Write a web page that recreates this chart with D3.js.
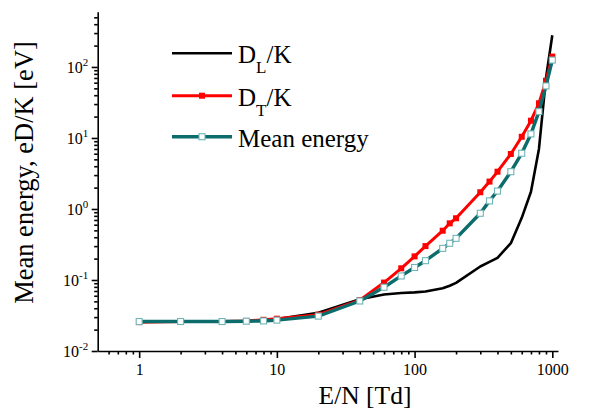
<!DOCTYPE html>
<html>
<head>
<meta charset="utf-8">
<script src="https://cdn.jsdelivr.net/npm/d3@7/dist/d3.min.js"></script>
<style>
  html, body { margin: 0; padding: 0; background: #fff; }
  svg { display: block; font-family: "Liberation Serif", "Times New Roman", serif; }
</style>
</head>
<body>
<svg id="chart" width="592" height="412"></svg>
<script>
// Reduced field E/N [Td]
const fieldPoints = [1, 2, 4, 6, 8, 10, 20, 40, 60, 80, 100, 120, 160, 180, 200, 300, 350, 400, 500, 600, 700, 800, 900, 1000];
// Longitudinal diffusion / mobility, eD_L/K [eV]
const dlValues = [0.0258, 0.026, 0.026, 0.0265, 0.0272, 0.0282, 0.0346, 0.0535, 0.0625, 0.0655, 0.067, 0.069, 0.0765, 0.083, 0.091, 0.155, 0.18, 0.205, 0.33, 0.75, 1.75, 7, 70, 280];
// Transverse diffusion / mobility, eD_T/K [eV]
const dtValues = [0.0255, 0.026, 0.026, 0.0265, 0.0275, 0.0285, 0.0325, 0.052, 0.092, 0.146, 0.215, 0.30, 0.494, 0.628, 0.74, 1.72, 2.43, 3.35, 5.95, 10.4, 17.5, 30.8, 64, 140];
// Mean electron energy [eV]
const meanValues = [0.026, 0.026, 0.026, 0.0263, 0.0265, 0.0272, 0.031, 0.0506, 0.079, 0.114, 0.15, 0.187, 0.279, 0.329, 0.386, 0.87, 1.3, 1.79, 3.35, 6.09, 11.4, 23.5, 54, 125];

const xMajorTicks = [1, 10, 100, 1000];
const yMajorExponents = [-2, -1, 0, 1, 2];
const legendLabels = [
  { main: "D", sub: "L", rest: "/K" },
  { main: "D", sub: "T", rest: "/K" },
  { main: "Mean energy", sub: "", rest: "" }
];

const svg = d3.select("#chart");
const plotLeft = 97.7, plotRight = 558, plotTop = 11.7, plotBottom = 351;

const x = d3.scaleLog().domain([0.5, 1100]).range([plotLeft, plotRight]);
const y = d3.scaleLog().domain([0.01, 600]).range([plotBottom, plotTop]);

// minor tick values
const xMinor = [];
for (let e = -1; e <= 3; e++) {
  for (let m = 1; m <= 9; m++) {
    const v = m * Math.pow(10, e);
    if (v > 0.5 && v < 1100 && !xMajorTicks.includes(v)) xMinor.push(v);
  }
}
const yMinor = [];
for (let e = -2; e <= 2; e++) {
  for (let m = 2; m <= 9; m++) {
    const v = m * Math.pow(10, e);
    if (v < 600) yMinor.push(v);
  }
}

// x axis
const gx = svg.append("g").attr("transform", `translate(0,${plotBottom})`);
gx.call(d3.axisBottom(x).tickValues(xMinor).tickSize(3.5).tickFormat(""));
gx.call(g => g.select(".domain").remove());
const gxMaj = svg.append("g").attr("transform", `translate(0,${plotBottom})`);
gxMaj.call(d3.axisBottom(x).tickValues(xMajorTicks).tickSize(7).tickSizeOuter(0).tickFormat(d3.format("d")));
gxMaj.selectAll("text")
  .attr("y", 24).attr("dy", 0)
  .attr("font-size", 16).attr("fill", "#000")
  .attr("font-family", "Liberation Serif");

// y axis
const gy = svg.append("g").attr("transform", `translate(${plotLeft},0)`);
gy.call(d3.axisLeft(y).tickValues(yMinor).tickSize(3.5).tickFormat(""));
gy.call(g => g.select(".domain").remove());
const gyMaj = svg.append("g").attr("transform", `translate(${plotLeft},0)`);
gyMaj.call(d3.axisLeft(y).tickValues(yMajorExponents.map(e => Math.pow(10, e))).tickSize(6).tickSizeOuter(0).tickFormat(""));

gyMaj.selectAll(".tick").each(function(d) {
  const e = Math.round(Math.log10(d));
  const t = d3.select(this).append("text")
    .attr("x", -9.5).attr("y", 5.6)
    .attr("text-anchor", "end")
    .attr("fill", "#000")
    .attr("font-size", 16)
    .attr("font-family", "Liberation Serif");
  t.append("tspan").text("10");
  t.append("tspan").attr("dy", -7.5).attr("font-size", 11).text(e < 0 ? "-" + Math.abs(e) : String(e));
});

svg.selectAll(".domain, .tick line").attr("stroke", "#000").attr("stroke-width", 1.6);

// axis titles
svg.append("text")
  .attr("x", 365).attr("y", 404)
  .attr("text-anchor", "middle")
  .attr("font-size", 25.5)
  .text("E/N [Td]");

svg.append("text")
  .attr("transform", "translate(33,172.5) rotate(-90)")
  .attr("text-anchor", "middle")
  .attr("font-size", 26.5)
  .text("Mean energy, eD/K [eV]");

// series
const line = d3.line().x(d => x(d[0])).y(d => y(d[1]));
const zip = vals => fieldPoints.map((f, i) => [f, vals[i]]);

const series = [
  { data: zip(dlValues), color: "#000", width: 2.6, marker: null },
  { data: zip(dtValues), color: "#ff0000", width: 3, marker: "filled" },
  { data: zip(meanValues), color: "#0c6b6b", width: 3.4, marker: "open" }
];

const plot = svg.append("g");
series.forEach(s => {
  plot.append("path")
    .datum(s.data)
    .attr("fill", "none")
    .attr("stroke", s.color)
    .attr("stroke-width", s.width)
    .attr("stroke-linejoin", "round")
    .attr("d", line);
  if (s.marker === "filled") {
    plot.selectAll(null).data(s.data).enter().append("rect")
      .attr("x", d => x(d[0]) - 3).attr("y", d => y(d[1]) - 3)
      .attr("width", 6).attr("height", 6)
      .attr("fill", "#ff0000");
  } else if (s.marker === "open") {
    plot.selectAll(null).data(s.data).enter().append("rect")
      .attr("x", d => x(d[0]) - 3).attr("y", d => y(d[1]) - 3)
      .attr("width", 6).attr("height", 6)
      .attr("fill", "#fff").attr("stroke", "#6fb5b5").attr("stroke-width", 1.1);
  }
});

// legend
const legendRows = [53.3, 95.7, 136.7];
const legend = svg.append("g");
series.forEach((s, i) => {
  const ly = legendRows[i];
  legend.append("line")
    .attr("x1", 172).attr("x2", 232).attr("y1", ly).attr("y2", ly)
    .attr("stroke", s.color).attr("stroke-width", s.width);
  if (s.marker === "filled") {
    legend.append("rect").attr("x", 199).attr("y", ly - 3).attr("width", 6).attr("height", 6).attr("fill", "#ff0000");
  } else if (s.marker === "open") {
    legend.append("rect").attr("x", 199).attr("y", ly - 3).attr("width", 6).attr("height", 6)
      .attr("fill", "#fff").attr("stroke", "#6fb5b5").attr("stroke-width", 1.1);
  }
  const lab = legendLabels[i];
  const t = legend.append("text").attr("x", 238).attr("y", ly + 10).attr("font-size", 25);
  t.append("tspan").text(lab.main);
  if (lab.sub) {
    t.append("tspan").attr("dy", 10).attr("font-size", 17).text(lab.sub);
    t.append("tspan").attr("dy", -10).text(lab.rest);
  }
});
</script>
</body>
</html>
